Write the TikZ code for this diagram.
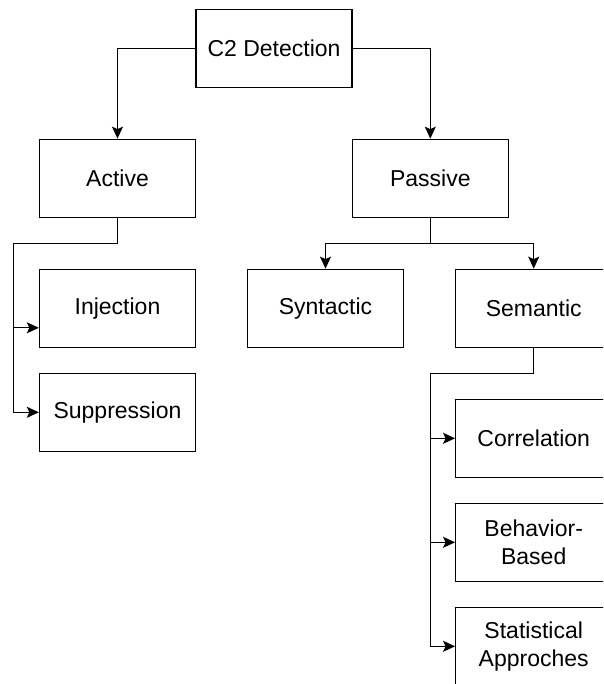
\documentclass[tikz,border=0pt]{standalone}
\usepackage{fontspec}
\setmainfont{Liberation Sans}
\usetikzlibrary{arrows.meta}
\tikzset{
  box/.style={draw=black, line width=1.3pt, fill=white, minimum width=156pt, minimum height=78pt,
    inner sep=0pt, align=center, font=\fontsize{23}{28}\selectfont},
  conn/.style={draw=black, line width=1.3pt},
  arr/.style={conn, -{Stealth[length=12pt,width=11pt,inset=2.5pt]}}
}
\begin{document}
\begin{tikzpicture}[x=1pt,y=-1pt]
\useasboundingbox (0,0) rectangle (603,684);
\clip (0,0) rectangle (603,684);
\node[box] (c2) at (274,48.4) {C2 Detection};
\node[box] (active) at (117.5,178.3) {Active};
\node[box] (passive) at (430.3,178.3) {Passive};
\node[box] (injection) at (117.5,308.3) {Injection};
\node[box] (suppression) at (117.5,412.3) {Suppression};
\node[box] (syntactic) at (325.5,308.3) {Syntactic};
\node[box] (semantic) at (533.7,308.3) {Semantic};
\node[box] (correlation) at (533.7,438.3) {Correlation};
\node[box] (behavior) at (533.7,542.3) {Behavior-\\Based};
\node[box] (statistical) at (533.7,646.3) {Statistical\\Approches};
\coordinate (lbend) at (13.3,243.3);
\coordinate (pbend) at (430.3,243.3);
\coordinate (sbend) at (430.3,373.3);
\draw[arr] (c2.west) -| (active.north);
\draw[arr] (c2.east) -| (passive.north);
\draw[conn] (active.south) |- (lbend);
\draw[arr] (lbend) |- ([yshift=-19.5pt]injection.west);
\draw[arr] (lbend) |- (suppression.west);
\draw[conn] (passive.south) -- (pbend);
\draw[arr] (pbend) -| (syntactic.north);
\draw[arr] (pbend) -| (semantic.north);
\draw[conn] (semantic.south) |- (sbend);
\draw[arr] (sbend) |- (correlation.west);
\draw[arr] (sbend) |- (behavior.west);
\draw[arr] (sbend) |- (statistical.west);
\end{tikzpicture}
\end{document}
